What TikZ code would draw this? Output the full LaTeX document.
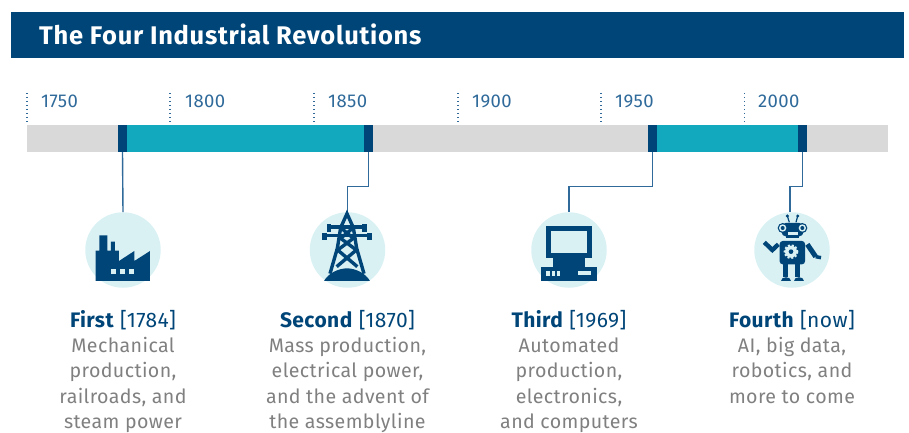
\documentclass[tikz,border=0pt]{standalone}
\usepackage{fontspec}
\setmainfont{Fira Sans}
\newfontfamily\dinfont[LetterSpace=2.0,Ligatures=NoCommon]{Fira Sans}
\newfontfamily\dintitle[LetterSpace=2.8,Ligatures=NoCommon]{Fira Sans}
\usepackage{tikz}
\usetikzlibrary{positioning}

\definecolor{navy}{HTML}{004578}
\definecolor{teal}{HTML}{12A9BF}
\definecolor{track}{HTML}{D9D9D9}
\definecolor{pale}{HTML}{DAF1F4}
\definecolor{wire}{HTML}{2F6A9A}
\definecolor{caption}{HTML}{808080}

\tikzset{
  band/.style={rectangle,inner sep=0pt,minimum height=27pt},
  marker/.style={band,fill=navy,minimum width=9pt},
  span/.style={band,fill=teal},
  disc/.style={circle,fill=pale,inner sep=0pt,minimum size=75.5pt},
  year/.style={text=wire,inner sep=0pt,anchor=west,font=\dinfont\fontsize{18.5}{18.5}\selectfont},
  yeartick/.style={wire,line width=1.2pt,dash pattern=on 1.2pt off 2.8pt,shorten >=2pt},
  link/.style={wire,line width=1.4pt},
  story/.style={text=caption,align=center,inner sep=0pt,anchor=north,
    font=\dinfont\fontsize{19.6}{25.3}\selectfont},
  icon/.style={x=0.3333pt,y=-0.3333pt},
  ink/.style={fill=navy,draw=none},
  hole/.style={fill=pale,draw=none},
  beam/.style={navy,line width=3.4pt},
}
\newcommand{\headline}[2]{{\fontsize{21}{25.3}\selectfont\color{navy}\textbf{#1} [#2]}}

\begin{document}
\begin{tikzpicture}[x=1pt,y=-1pt]
    \useasboundingbox (0,0) rectangle (909,433);
    % banner
    \node[rectangle,fill=navy,inner sep=0pt,minimum width=893pt,minimum height=46pt] (banner) at (457.5,35) {};
    \node[text=white,inner sep=0pt,anchor=west,font=\dintitle\bfseries\fontsize{25.5}{25.5}\selectfont] (title) at (39,34) {The Four Industrial Revolutions};

    % time axis
    \node[band,fill=track,minimum width=861pt] (bar) at (457.5,138.5) {};
    \node[span,minimum width=246pt] (span_a) at (245.5,138.5) {};
    \node[span,minimum width=150pt] (span_b) at (727.5,138.5) {};
    \node[marker] (m_1) at (122.5,138.5) {};
    \node[marker] (m_2) at (368.5,138.5) {};
    \node[marker] (m_3) at (652.5,138.5) {};
    \node[marker] (m_4) at (802.5,138.5) {};

    \coordinate (k_1750) at (27,93);
    \coordinate (k_1800) at (170,93);
    \coordinate (k_1850) at (314,93);
    \coordinate (k_1900) at (458,93);
    \coordinate (k_1950) at (601,93);
    \coordinate (k_2000) at (744.5,93);
    \draw[yeartick] (k_1750) -- (k_1750 |- bar.north);
    \draw[yeartick] (k_1800) -- (k_1800 |- bar.north);
    \draw[yeartick] (k_1850) -- (k_1850 |- bar.north);
    \draw[yeartick] (k_1900) -- (k_1900 |- bar.north);
    \draw[yeartick] (k_1950) -- (k_1950 |- bar.north);
    \draw[yeartick] (k_2000) -- (k_2000 |- bar.north);
    \node[year] (y_1750) at (41,101.5) {1750};
    \node[year] (y_1800) at (185,101.5) {1800};
    \node[year] (y_1850) at (328,101.5) {1850};
    \node[year] (y_1900) at (472,101.5) {1900};
    \node[year] (y_1950) at (615,101.5) {1950};
    \node[year] (y_2000) at (758,101.5) {2000};

    % discs and connectors
    \node[disc] (c_1) at (123,250) {};
    \node[disc] (c_2) at (347.5,250) {};
    \node[disc] (c_3) at (569,250) {};
    \node[disc] (c_4) at (792,250) {};
    \draw[link] (m_1.south) -- (c_1.north);
    \draw[link] (m_2.south) -- ++(0,34) -| (c_2.north);
    \draw[link] (m_3.south) -- ++(0,34) -| (c_3.north);
    \draw[link] (m_4.south) -- ++(0,34) -| ([xshift=-2pt]c_4.north);

    % factory
    \begin{scope}[shift={(70,205)},icon]
      \fill[ink] (77,228) -- (77,137) -- (88,137) -- (88,91) -- (112,91) -- (112,137) -- (123,137)
        -- (123,110) -- (135,110) -- (135,137) -- (147,137) -- (147,168) -- (193,138) -- (193,168)
        -- (240,138) -- (240,228) -- cycle;
      \fill[hole] (123,191) rectangle (139,207);
      \fill[hole] (150,191) rectangle (166,207);
      \fill[hole] (177,191) rectangle (193,207);
    \end{scope}

    % pylon
    \begin{scope}[shift={(300,205)},icon]
      \draw[beam,line join=miter] (90,206) -- (112,130) -- (122,68) -- (141,26) -- (160,68) -- (170,130) -- (192,206);
      \draw[beam] (122,68) -- (160,100) -- (113,135) -- (172,185);
      \draw[beam] (160,68) -- (122,100) -- (169,135) -- (110,185);
      \draw[beam] (84,66) -- (198,66);
      \draw[beam] (70,91) -- (212,91);
      \fill[ink] (80,58) rectangle (93,82);
      \fill[ink] (187,58) rectangle (200,82);
      \fill[ink] (67,84) rectangle (81,106);
      \fill[ink] (201,84) rectangle (215,106);
      \fill[ink] (72,228) .. controls (85,205) and (115,190) .. (141,190) .. controls (167,190) and (197,205) .. (210,228) -- cycle;
    \end{scope}

    % computer
    \begin{scope}[shift={(525,205)},icon]
      \fill[ink] (62,62) rectangle (201,160);
      \fill[hole] (79,79) rectangle (186,143);
      \fill[ink] (85,160) rectangle (179,186);
      \fill[ink] (48,186) rectangle (215,228);
      \fill[hole] (64,198) rectangle (75,214);
      \fill[hole] (80,198) rectangle (90,214);
      \fill[hole] (95,198) rectangle (105,214);
      \fill[hole] (160,199) rectangle (198,210);
    \end{scope}

    % robot
    \begin{scope}[shift={(745,205)},icon]
      \draw[navy,line width=1.2pt] (133,52) -- (127,33);
      \draw[navy,line width=1.2pt] (153,52) -- (158,33);
      \fill[ink] (127,33) circle (5);
      \fill[ink] (158,33) circle (5);
      \fill[ink,rounded corners=4pt] (110,54) rectangle (175,94);
      \fill[ink] (124,90) rectangle (162,100);
      \fill[hole] (129,82) rectangle (158,90);
      \fill[ink] (113,69) circle (15);
      \fill[ink] (172,69) circle (15);
      \fill[hole] (113,69) circle (11);
      \fill[hole] (172,69) circle (11);
      \fill[ink] (113,69) circle (6);
      \fill[ink] (172,69) circle (6);
      \fill[ink,rounded corners=3pt] (104,108) rectangle (180,178);
      \fill[hole] (138,140) circle (18);
      \draw[pale,line width=2pt,dash pattern=on 2pt off 1.8pt] (138,140) circle (19);
      \fill[ink] (138,140) circle (7);
      \draw[navy,line width=4.4pt] (58,112) -- (82,135) -- (100,118);
      \draw[navy,line width=5pt] (187,118) -- (212,155);
      \draw[navy,line width=3.5pt] (212,155) -- (228,158);
      \draw[navy,line width=5pt] (122,178) -- (122,216);
      \draw[navy,line width=5pt] (158,178) -- (158,216);
      \fill[ink] (107,228) .. controls (107,212) and (137,212) .. (137,228) -- cycle;
      \fill[ink] (147,228) .. controls (147,212) and (177,212) .. (177,228) -- cycle;
    \end{scope}

    % captions
    \node[story] (t_1) [below=22pt of c_1] {\headline{First}{1784}\\Mechanical\\production,\\railroads, and\\steam power};
    \node[story] (t_2) [below=22pt of c_2] {\headline{Second}{1870}\\Mass production,\\electrical power,\\and the advent of\\the assemblyline};
    \node[story] (t_3) [below=22pt of c_3] {\headline{Third}{1969}\\Automated\\production,\\electronics,\\and computers};
    \node[story] (t_4) [below=22pt of c_4] {\headline{Fourth}{now}\\AI, big data,\\robotics, and\\more to come};
\end{tikzpicture}
\end{document}
